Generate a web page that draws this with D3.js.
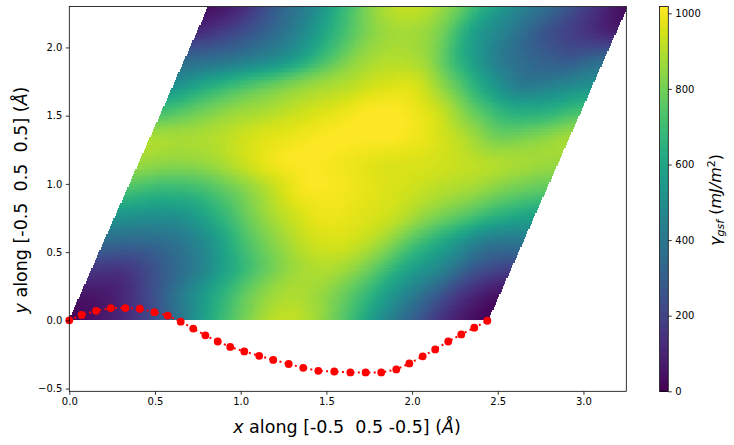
<!DOCTYPE html>
<html><head><meta charset="utf-8">
<script src="https://cdn.jsdelivr.net/npm/d3@7"></script>
<style>
html,body{margin:0;padding:0;background:#fff}
svg{display:block}
text{font-family:"DejaVu Sans";fill:#000}
.tick text{font-size:10px}
</style></head><body>
<svg id="c" width="734" height="445"></svg>
<script>
const xTicks = [0, 0.5, 1, 1.5, 2, 2.5, 3];
const yTicks = [-0.5, 0, 0.5, 1, 1.5, 2];
const cbarTicks = [0, 200, 400, 600, 800, 1000];
const xLimits = [0, 3.25];
const yLimits = [-0.52, 2.3];
const gammaLimits = [0, 1018];
const latticeA = [2.44, 0];
const latticeB = [0.813, 2.3];
// gamma values (mJ/m2): rows along b, columns along a
const gammaGrid = [
 [10,70,170,360,610,800,920,880,720,490,280,100,10],
 [60,90,230,440,640,810,890,850,720,530,340,150,50],
 [170,170,290,430,620,780,880,890,790,610,470,280,200],
 [350,340,380,510,710,850,940,950,870,720,570,420,400],
 [530,510,530,660,820,930,990,970,930,840,750,650,590],
 [720,680,700,790,900,1000,1005,975,945,905,865,800,760],
 [860,840,860,930,1000,1012,995,965,960,935,905,880,860],
 [885,880,905,955,985,1012,1014,1014,975,900,800,820,870],
 [710,780,850,890,935,975,1014,1005,930,770,640,640,710],
 [510,620,710,790,860,905,955,950,790,580,420,450,510],
 [340,370,440,540,710,850,900,850,630,430,330,280,340],
 [130,210,320,470,670,830,880,810,570,420,265,170,95],
 [40,120,300,470,700,880,925,820,620,450,320,160,30]
];
const pathX = [0,.072,.156,.242,.327,.411,.496,.574,.650,.723,.794,.866,.939,1.021,1.108,1.190,1.280,1.365,1.453,1.546,1.640,1.729,1.820,1.908,1.984,2.062,2.135,2.211,2.287,2.363,2.439];
const pathY = [0,.04,.07,.09,.09,.085,.06,.035,-.01,-.06,-.11,-.155,-.195,-.228,-.26,-.29,-.32,-.348,-.37,-.375,-.382,-.382,-.382,-.36,-.316,-.264,-.213,-.155,-.103,-.054,-.003];

const plot = {l:69.3, r:626.3, t:6.5, b:391.3};
const cb = {l:659.5, r:668.3};
const svg = d3.select('#c');
const x = d3.scaleLinear().domain(xLimits).range([plot.l, plot.r]);
const y = d3.scaleLinear().domain(yLimits).range([plot.b, plot.t]);
const color = d3.scaleSequential(d3.interpolateViridis).domain(gammaLimits);
const cbY = d3.scaleLinear().domain(gammaLimits).range([plot.b, plot.t]);

svg.append('clipPath').attr('id','pc').append('rect')
  .attr('x',plot.l).attr('y',plot.t).attr('width',plot.r-plot.l).attr('height',plot.b-plot.t);

// smooth sampling of the read grid for display (Catmull-Rom)
function cr(p0,p1,p2,p3,t){return 0.5*(2*p1+(p2-p0)*t+(2*p0-5*p1+4*p2-p3)*t*t+(3*p1-p0-3*p2+p3)*t*t*t);}
function sample(u,v){
  const R=gammaGrid.length-1,C=gammaGrid[0].length-1;
  const fv=Math.min(v*R,R-1e-6),fu=Math.min(u*C,C-1e-6);
  const r=Math.floor(fv),c=Math.floor(fu),tv=fv-r,tu=fu-c;
  const row=k=>{const g=gammaGrid[Math.max(0,Math.min(R,k))];
    const a=i=>g[Math.max(0,Math.min(C,i))];
    return cr(a(c-1),a(c),a(c+1),a(c+2),tu);};
  return Math.max(0,Math.min(1018,cr(row(r-1),row(r),row(r+1),row(r+2),tv)));
}
const nU=120,nV=120;
const cells=[];
for(let j=0;j<nV;j++)for(let i=0;i<nU;i++){
  const u=i/nU,v=j/nV;
  cells.push({u,v,g:sample((i+.5)/nU,(j+.5)/nV)});
}
const du=x(latticeA[0]/nU)-x(0), dv=y(0)-y(latticeB[1]/nV);
svg.append('g').attr('clip-path','url(#pc)').attr('shape-rendering','crispEdges')
 .selectAll('rect').data(cells).join('rect')
 .attr('x',d=>Math.round(x(latticeA[0]*d.u+latticeB[0]*d.v)))
 .attr('y',d=>Math.round(y(latticeB[1]*d.v)-dv))
 .attr('width',Math.ceil(du)+1)
 .attr('height',d=>Math.round(y(latticeB[1]*d.v))-Math.round(y(latticeB[1]*d.v)-dv))
 .attr('fill',d=>color(d.g));

// path
const pts=pathX.map((px,i)=>[px,pathY[i]]);
const pg=svg.append('g').attr('clip-path','url(#pc)');
pg.append('path').attr('d',d3.line().x(d=>x(d[0])).y(d=>y(d[1]))(pts))
 .attr('fill','none').attr('stroke','#ff0000').attr('stroke-width',2).attr('stroke-dasharray','2 3.3');
svg.append('g').selectAll('circle').data(pts).join('circle')
 .attr('cx',d=>x(d[0])).attr('cy',d=>y(d[1])).attr('r',3.9).attr('fill','#ff0000');

// axes
const fmt=d3.format('.1f');
const fixAxis=g=>{g.select('.domain').remove();g.selectAll('.tick line').attr('stroke','#000').attr('stroke-width',.8);
  g.selectAll('.tick text').attr('fill','#000');};
svg.append('g').attr('transform',`translate(0,${plot.b})`)
 .call(d3.axisBottom(x).tickValues(xTicks).tickFormat(fmt).tickSize(3.5).tickPadding(3.5)).call(fixAxis).attr('font-family',null).attr('font-size',null);
svg.append('g').attr('transform',`translate(${plot.l},0)`)
 .call(d3.axisLeft(y).tickValues(yTicks).tickFormat(d=>fmt(d).replace('-','\u2212')).tickSize(3.5).tickPadding(3.5)).call(fixAxis).attr('font-family',null).attr('font-size',null);
svg.append('rect').attr('x',plot.l).attr('y',plot.t).attr('width',plot.r-plot.l).attr('height',plot.b-plot.t)
 .attr('fill','none').attr('stroke','#000').attr('stroke-width',.8);

// colour bar
const bands=d3.range(0,385);
svg.append('g').attr('shape-rendering','crispEdges').selectAll('rect').data(bands).join('rect')
 .attr('x',cb.l).attr('width',cb.r-cb.l)
 .attr('y',d=>plot.t+d).attr('height',1.5)
 .attr('fill',d=>color(cbY.invert(plot.t+d+.5)));
svg.append('rect').attr('x',cb.l).attr('y',plot.t).attr('width',cb.r-cb.l).attr('height',plot.b-plot.t)
 .attr('fill','none').attr('stroke','#000').attr('stroke-width',.8);
svg.append('g').attr('transform',`translate(${cb.r},0)`)
 .call(d3.axisRight(cbY).tickValues(cbarTicks).tickFormat(d3.format('d')).tickSize(3.5).tickPadding(3.5)).call(fixAxis).attr('font-family',null).attr('font-size',null);

// labels
const xl=svg.append('text').attr('x',347).attr('y',433).attr('text-anchor','middle').attr('font-size',17.5);
xl.append('tspan').attr('font-style','italic').text('x');
xl.append('tspan').style('white-space','pre').text(' along [-0.5  0.5 -0.5] (');
xl.append('tspan').attr('font-style','italic').text('Å');
xl.append('tspan').text(')');
const yl=svg.append('text').attr('transform','translate(27,200) rotate(-90)').attr('text-anchor','middle').attr('font-size',17.5);
yl.append('tspan').attr('font-style','italic').text('y');
yl.append('tspan').style('white-space','pre').text(' along [-0.5  0.5  0.5] (');
yl.append('tspan').attr('font-style','italic').text('Å');
yl.append('tspan').text(')');
const cl=svg.append('text').attr('transform','translate(721,200) rotate(-90)').attr('text-anchor','middle').attr('font-size',16);
cl.append('tspan').attr('font-style','italic').text('γ');
cl.append('tspan').attr('font-style','italic').attr('font-size',11).attr('dy',3).text('gsf');
cl.append('tspan').attr('dy',-3).style('white-space','pre').text(' (');
cl.append('tspan').attr('font-style','italic').text('mJ/m');
cl.append('tspan').attr('font-size',11).attr('dy',-6).text('2');
cl.append('tspan').attr('dy',6).text(')');
</script>
</body></html>
